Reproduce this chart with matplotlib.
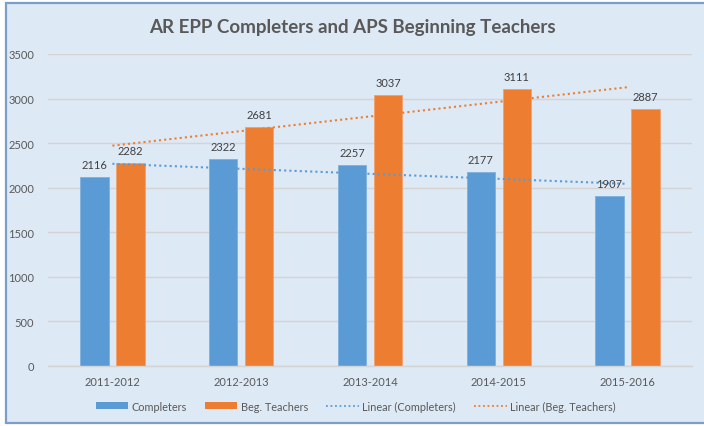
import matplotlib
matplotlib.use("Agg")
import matplotlib.pyplot as plt
import numpy as np
from matplotlib.lines import Line2D
from matplotlib.patches import Patch, Rectangle

years = ["2011-2012", "2012-2013", "2013-2014", "2014-2015", "2015-2016"]
completers = [2116, 2322, 2257, 2177, 1907]
beg_teachers = [2282, 2681, 3037, 3111, 2887]
y_ticks = [0, 500, 1000, 1500, 2000, 2500, 3000, 3500]

blue = "#5b9bd5"
orange = "#ed7d31"
bg = "#dde9f5"
label_color = "#595959"

plt.rcParams["font.family"] = ["Lato", "DejaVu Sans"]

fig = plt.figure(figsize=(7.04, 4.27), dpi=100)
fig.patch.set_facecolor("white")
frame = Rectangle((6 / 704, 3 / 427), 1.0, 1 - 7 / 427,
                  transform=fig.transFigure, facecolor=bg,
                  edgecolor="#7c9fc9", linewidth=1.6, zorder=-10)
fig.add_artist(frame)

ax = fig.add_axes([48 / 704, 1 - 367 / 427, (692 - 48) / 704, (367 - 55) / 427])
ax.set_facecolor("none")
ax.set_zorder(1)

x = np.arange(len(years))
w = 0.22
off = 0.14
ax.bar(x - off, completers, w, color=blue, edgecolor="#7fb0dc", linewidth=0.6, zorder=2)
ax.bar(x + off, beg_teachers, w, color=orange, edgecolor="#f3a06a", linewidth=0.6, zorder=2)

for xi, c, b in zip(x, completers, beg_teachers):
    ax.annotate(str(c), (xi - off, c), xytext=(0, 5), textcoords="offset points",
                ha="center", va="bottom", fontsize=8, color="#404040", zorder=4)
    ax.annotate(str(b), (xi + off, b), xytext=(0, 5), textcoords="offset points",
                ha="center", va="bottom", fontsize=8, color="#404040", zorder=4)

# linear trend lines like Excel
pc = np.polyfit(x, completers, 1)
pb = np.polyfit(x, beg_teachers, 1)
ax.plot(x, np.polyval(pc, x), linestyle=(0, (1, 1.5)), color=blue, linewidth=1.5, zorder=3)
ax.plot(x, np.polyval(pb, x), linestyle=(0, (1, 1.5)), color=orange, linewidth=1.5, zorder=3)

ax.set_xlim(-0.5, len(years) - 0.5)
ax.set_ylim(0, 3500)
ax.set_yticks(y_ticks)
ax.set_xticks(x, labels=years)
ax.tick_params(axis="both", length=0, labelsize=8, labelcolor=label_color)
ax.tick_params(axis="y", pad=10)
ax.tick_params(axis="x", pad=7)
ax.yaxis.grid(True, color="#d4d4d4", linewidth=1, zorder=0)
ax.set_axisbelow(True)
for s in ("top", "right", "left"):
    ax.spines[s].set_visible(False)
ax.spines["bottom"].set_color("#d4d4d4")
ax.spines["bottom"].set_linewidth(1)

fig.text(0.5, 1 - 28 / 427, "AR EPP Completers and APS Beginning Teachers",
         ha="center", va="center", fontsize=13.5, fontweight="bold", color=label_color)

handles = [
    Patch(facecolor=blue, edgecolor="none"),
    Patch(facecolor=orange, edgecolor="none"),
    Line2D([], [], color=blue, linestyle=(0, (1, 1.5)), linewidth=1.3),
    Line2D([], [], color=orange, linestyle=(0, (1, 1.5)), linewidth=1.3),
]
fig.legend(handles, ["Completers", "Beg. Teachers", "Linear (Completers)", "Linear (Beg. Teachers)"],
           loc="center", bbox_to_anchor=(0.505, 1 - 407 / 427), ncol=4, frameon=False,
           fontsize=7.8, labelcolor=label_color, handlelength=3.0, handleheight=0.6,
           handletextpad=0.3, columnspacing=1.7)

fig.savefig("out.png", dpi=100, facecolor=fig.get_facecolor())
